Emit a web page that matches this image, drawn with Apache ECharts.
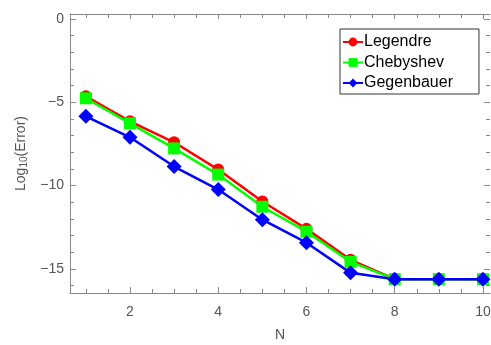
<!DOCTYPE html>
<html><head><meta charset="utf-8">
<script src="https://cdn.jsdelivr.net/npm/echarts@6/dist/echarts.min.js"></script>
<style>html,body{margin:0;padding:0;background:#fff}#c{width:491px;height:345px}</style>
</head><body><div id="c"></div>
<script>
const N = [1,2,3,4,5,6,7,8,9,10];
const legendre   = [-4.64,-6.14,-7.40,-9.04,-10.96,-12.60,-14.46,-15.62,-15.62,-15.62];
const chebyshev  = [-4.76,-6.27,-7.77,-9.34,-11.27,-12.77,-14.58,-15.62,-15.62,-15.62];
const gegenbauer = [-5.84,-7.10,-8.86,-10.24,-12.05,-13.43,-15.24,-15.62,-15.62,-15.62];
const xMajor = [2,4,6,8,10];
const xMinor = [1,1.5,2.5,3,3.5,4.5,5,5.5,6.5,7,7.5,8.5,9,9.5];
const yMajor = [0,-5,-10,-15];
const yMinor = [-1,-2,-3,-4,-6,-7,-8,-9,-11,-12,-13,-14,-16];

const XMIN=0.64, XMAX=10.16, YMIN=-16.45, YMAX=0.3;
const axisCol='#888', labCol='#555';
function xa(pos, ticks, len, labels, show){
  return {type:'value', min:XMIN, max:XMAX, position:pos,
    axisLine:{show:show, onZero:false, lineStyle:{color:axisCol,width:1}},
    axisTick:{show:true, inside:true, length:len, customValues:ticks, lineStyle:{color:axisCol}},
    axisLabel:{show:labels, customValues:ticks, color:labCol, fontSize:14, fontFamily:'Liberation Sans', margin:12},
    splitLine:{show:false}};
}
function ya(pos, ticks, len, labels, show){
  return {type:'value', min:YMIN, max:YMAX, position:pos,
    axisLine:{show:show, onZero:false, lineStyle:{color:axisCol,width:1}},
    axisTick:{show:true, inside:true, length:len, customValues:ticks, lineStyle:{color:axisCol}},
    axisLabel:{show:labels, customValues:ticks, color:labCol, fontSize:14, fontFamily:'Liberation Sans', margin:6,
      formatter:v=>String(v).replace('-','\u2212')},
    splitLine:{show:false}};
}
const xAxes=[xa('bottom',xMajor,6,true,true), xa('bottom',xMinor,4,false,false),
             xa('top',xMajor,5,false,true), xa('top',xMinor,4,false,false)];
xAxes[0].name='N'; xAxes[0].nameLocation='middle'; xAxes[0].nameGap=35;
xAxes[0].nameTextStyle={color:labCol,fontSize:14,fontFamily:'Liberation Sans'};
const yAxes=[ya('left',yMajor,6,true,true), ya('left',yMinor,4,false,false),
             ya('right',yMajor,6,false,false), ya('right',yMinor,4,false,false)];
yAxes[0].name='Log{s|10}(Error)'; yAxes[0].nameLocation='middle'; yAxes[0].nameGap=38;
yAxes[0].nameTextStyle={color:labCol,fontSize:14,fontFamily:'Liberation Sans',
  rich:{s:{fontSize:10,color:labCol,fontFamily:'Liberation Sans',verticalAlign:'bottom',padding:[6,0,0,0]}}};

function ser(name, data, color, symbol, size){
  return {name, type:'line', xAxisIndex:0, yAxisIndex:0, data:N.map((n,i)=>[n,data[i]]),
    symbol, symbolSize:size, itemStyle:{color}, lineStyle:{color,width:2.5}, showSymbol:true, animation:false};
}
const chart=echarts.init(document.getElementById('c'),null,{renderer:'canvas'});
chart.setOption({
  animation:false,
  grid:{left:70,right:1,top:14,bottom:52,containLabel:false,outerBoundsMode:'none'},
  xAxis:xAxes, yAxis:yAxes,
  legend:{left:340, top:29, orient:'vertical', backgroundColor:'#fff', borderColor:'#333', borderWidth:1,
    padding:[5,26,3,2], itemGap:4.5, itemWidth:20, itemHeight:11,
    textStyle:{color:'#000',fontSize:16,fontFamily:'Liberation Sans',padding:[0,0,0,-4]},
    data:['Legendre','Chebyshev','Gegenbauer']},
  series:[
    ser('Legendre',legendre,'#ff0000','circle',12),
    ser('Chebyshev',chebyshev,'#00ff00','rect',12),
    ser('Gegenbauer',gegenbauer,'#0000ff','diamond',15)
  ]
});
</script></body></html>
